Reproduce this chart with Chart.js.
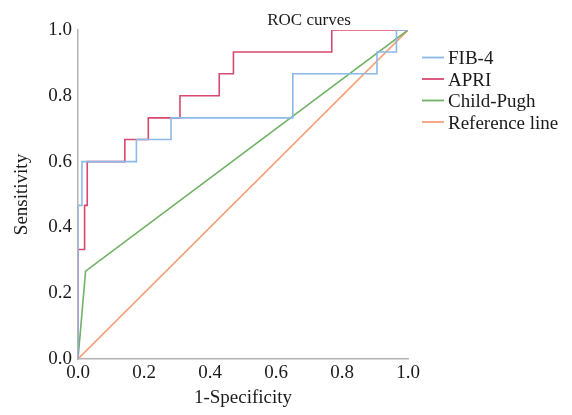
<!DOCTYPE html>
<html>
<head>
<meta charset="utf-8">
<script src="https://cdn.jsdelivr.net/npm/chart.js@4"></script>
<style>
  body { margin: 0; background: #fff; }
  #wrap { width: 572px; height: 415px; }
</style>
</head>
<body>
<div id="wrap"><canvas id="roc-chart" width="572" height="415"></canvas></div>
<script>
// =========================
// Data (1-Specificity / Sensitivity)
// =========================
const seriesNames = ["FIB-4", "APRI", "Child-Pugh", "Reference line"];
const seriesColors = ["#8cb9e8", "#d8486f", "#6fb265", "#f4a27a"];

const fib4X = [0, 0, 0.012, 0.012, 0.177, 0.177, 0.282, 0.282, 0.651, 0.651, 0.906, 0.906, 0.965, 0.965, 1];
const fib4Y = [0, 0.467, 0.467, 0.6, 0.6, 0.667, 0.667, 0.733, 0.733, 0.867, 0.867, 0.933, 0.933, 1, 1];

const apriX = [0, 0, 0.02, 0.02, 0.028, 0.028, 0.142, 0.142, 0.213, 0.213, 0.309, 0.309, 0.428, 0.428, 0.471, 0.471, 0.769, 0.769, 1];
const apriY = [0, 0.333, 0.333, 0.467, 0.467, 0.6, 0.6, 0.667, 0.667, 0.733, 0.733, 0.8, 0.8, 0.867, 0.867, 0.933, 0.933, 1, 1];

const childX = [0, 0.023, 1];
const childY = [0, 0.267, 1];

const refX = [0, 1];
const refY = [0, 1];

const tickValues = [0, 0.2, 0.4, 0.6, 0.8, 1.0];

const FONT = '"Liberation Serif", "Times New Roman", serif';
const TEXT = "#1a1a1a";

function pts(xs, ys) {
  return xs.map((x, i) => ({ x: x, y: ys[i] }));
}

const allSeries = [pts(fib4X, fib4Y), pts(apriX, apriY), pts(childX, childY), pts(refX, refY)];

// title + legend drawn by hand
const rocExtras = {
  id: "rocExtras",
  afterDraw(chart) {
    const ctx = chart.ctx;
    ctx.save();
    ctx.fillStyle = TEXT;
    ctx.font = "17px " + FONT;
    ctx.textAlign = "center";
    ctx.textBaseline = "alphabetic";
    ctx.fillText("ROC curves", 309, 25);

    ctx.font = "19px " + FONT;
    ctx.textAlign = "left";
    seriesNames.forEach((name, i) => {
      const y = 57.5 + i * 21.5;
      ctx.strokeStyle = seriesColors[i];
      ctx.lineWidth = 1.8;
      ctx.beginPath();
      ctx.moveTo(422, y);
      ctx.lineTo(444, y);
      ctx.stroke();
      ctx.fillStyle = TEXT;
      ctx.fillText(name, 448, y + 6.5);
    });
    ctx.restore();
  },
};

new Chart(document.getElementById("roc-chart"), {
  type: "scatter",
  data: {
    datasets: allSeries.map((d, i) => ({
      label: seriesNames[i],
      data: d,
      showLine: true,
      borderColor: seriesColors[i],
      backgroundColor: seriesColors[i],
      borderWidth: 1.6,
      pointRadius: 0,
      tension: 0,
    })),
  },
  options: {
    responsive: false,
    animation: false,
    layout: { padding: { top: 30, right: 164, left: 0, bottom: 0 } },
    plugins: {
      legend: { display: false },
      tooltip: { enabled: false },
    },
    scales: {
      x: {
        type: "linear",
        min: 0,
        max: 1,
        afterFit(scale) { scale.height = 56; },
        afterBuildTicks(scale) { scale.ticks = tickValues.map((v) => ({ value: v })); },
        grid: { display: false, drawTicks: false },
        border: { color: "#b3b3b3", width: 1.5 },
        ticks: {
          padding: 3,
          color: TEXT,
          font: { family: FONT, size: 19 },
          callback: (v) => Number(v).toFixed(1),
        },
        title: {
          display: true,
          text: "1-Specificity",
          color: TEXT,
          font: { family: FONT, size: 19 },
          padding: { top: 0, bottom: 6 },
        },
      },
      y: {
        type: "linear",
        min: 0,
        max: 1,
        afterFit(scale) { scale.width = 78; },
        afterBuildTicks(scale) { scale.ticks = tickValues.map((v) => ({ value: v })); },
        grid: { display: false, drawTicks: false },
        border: { color: "#b3b3b3", width: 1.5 },
        ticks: {
          padding: 6,
          color: TEXT,
          font: { family: FONT, size: 19 },
          callback: (v) => Number(v).toFixed(1),
        },
        title: {
          display: true,
          text: "Sensitivity",
          color: TEXT,
          font: { family: FONT, size: 19 },
          padding: { top: 11, bottom: 0 },
        },
      },
    },
  },
  plugins: [rocExtras],
});
</script>
</body>
</html>
